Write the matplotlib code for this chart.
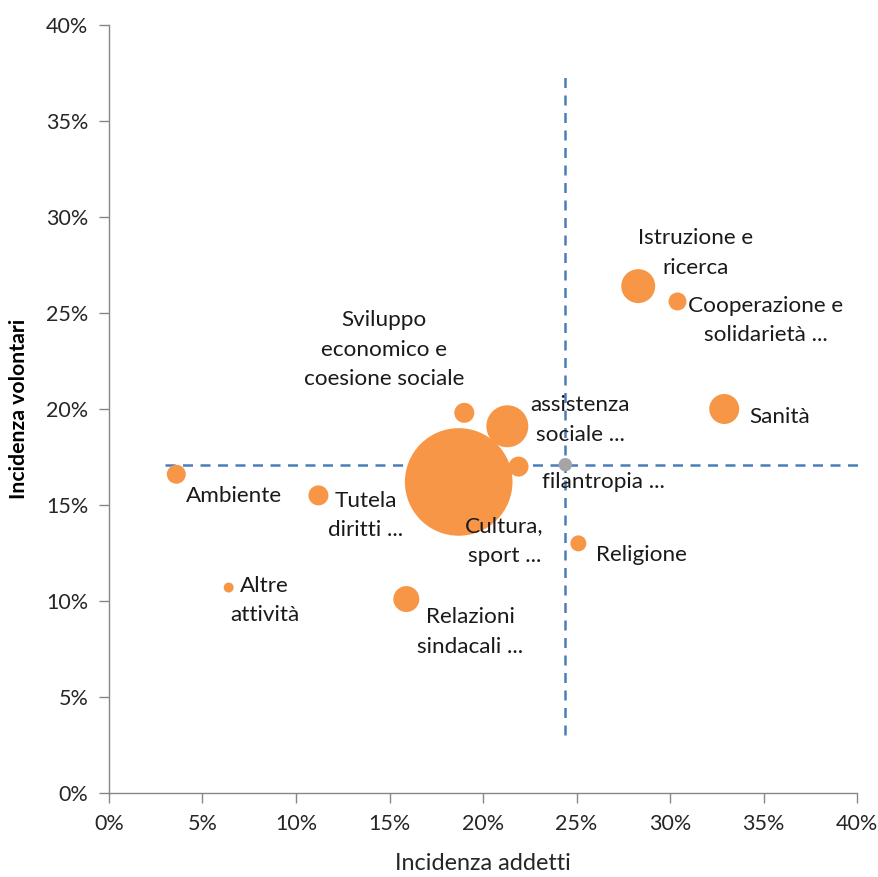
import matplotlib
matplotlib.use("Agg")
import matplotlib.pyplot as plt
from matplotlib.ticker import FuncFormatter, MultipleLocator

plt.rcParams['font.family'] = ['Lato', 'DejaVu Sans']

# Data (fractions)
categorie = ["Istruzione e\nricerca", "Cooperazione e\nsolidarietà ...", "Sanità",
             "assistenza\nsociale ...", "Sviluppo\neconomico e\ncoesione sociale",
             "filantropia ...", "Cultura,\nsport ...", "Religione",
             "Relazioni\nsindacali ...", "Tutela\ndiritti ...", "Ambiente",
             "Altre\nattività"]
addetti = [0.283, 0.304, 0.329, 0.213, 0.190, 0.219, 0.187, 0.251, 0.159, 0.112, 0.036, 0.064]
volontari = [0.264, 0.256, 0.200, 0.191, 0.198, 0.170, 0.162, 0.130, 0.101, 0.155, 0.166, 0.107]
dimensione = [289, 81, 225, 441, 100, 100, 2900, 64, 169, 100, 90, 25]

media_addetti = 0.244
media_volontari = 0.171
media_dim = 45

# label offsets (points) and alignment - styling only
offsets = [(41.0, 23.8, 'center'), (63.5, -13.7, 'center'), (18, -5.8, 'left'),
           (52.6, 4.3, 'center'), (-57.6, 45.4, 'center'), (61.2, -10.8, 'center'),
           (33, -42.5, 'center'), (13, -8.6, 'left'), (46, -23.8, 'center'),
           (33.8, -14.4, 'center'), (41.8, -15.8, 'center'), (26, -9.4, 'center')]

fig = plt.figure(figsize=(8.79, 8.77), dpi=100)
ax = fig.add_axes([0.124, 0.0958, 0.851, 0.8757])

sizes = [2.07 * d for d in dimensione]
ax.scatter(addetti, volontari, s=sizes, color='#F79646', edgecolors='none', zorder=3)

# reference lines
ax.plot([0.03, 0.403], [media_volontari, media_volontari], ls=(0, (4, 3)), color='#4A7EBB',
        lw=1.8, zorder=2, clip_on=False)
ax.plot([media_addetti, media_addetti], [0.03, 0.375], ls=(0, (4, 3)), color='#4A7EBB',
        lw=1.8, zorder=2)
ax.scatter([media_addetti], [media_volontari], s=2.07 * media_dim, color='#A5A5A5',
           edgecolors='none', zorder=4)

for x, y, lab, (dx, dy, ha) in zip(addetti, volontari, categorie, offsets):
    ax.annotate(lab, (x, y), xytext=(dx, dy), textcoords='offset points',
                ha=ha, va='center', fontsize=16.2, color='#1a1a1a',
                multialignment='center', linespacing=1.6, zorder=5)

ax.set_xlim(0, 0.40)
ax.set_ylim(0, 0.40)
ax.xaxis.set_major_locator(MultipleLocator(0.05))
ax.yaxis.set_major_locator(MultipleLocator(0.05))
fmt = FuncFormatter(lambda v, p: f"{v*100:.0f}%")
ax.xaxis.set_major_formatter(fmt)
ax.yaxis.set_major_formatter(fmt)

for s in ['top', 'right']:
    ax.spines[s].set_visible(False)
for s in ['left', 'bottom']:
    ax.spines[s].set_color('#868686')
    ax.spines[s].set_linewidth(1.0)
ax.tick_params(axis='both', direction='out', length=7, color='#868686', width=1.0,
               labelsize=15.5, labelcolor='#262626', pad=8)

ax.set_xlabel("Incidenza addetti", fontsize=16.8, color='#262626', labelpad=14)
ax.set_ylabel("Incidenza volontari", fontsize=15.3, fontweight='bold', color='black', labelpad=12)

fig.savefig("out.png", dpi=100)
